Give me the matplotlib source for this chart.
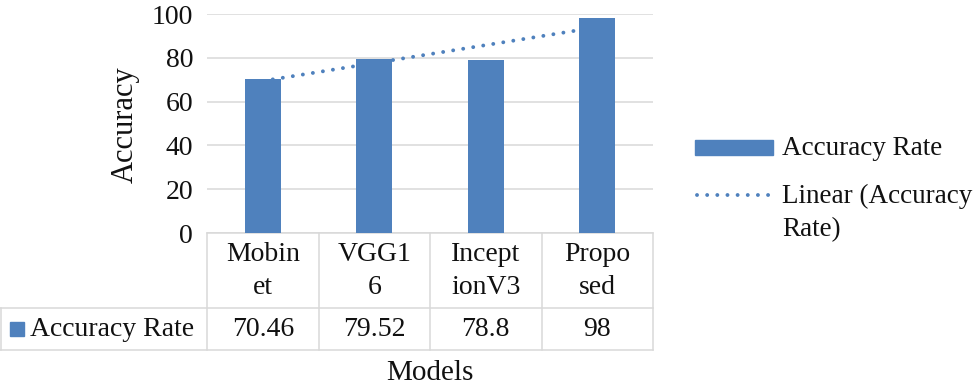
import numpy as np
import matplotlib.pyplot as plt
from matplotlib import transforms
from matplotlib.patches import Rectangle
from matplotlib.lines import Line2D

models = ['Mobin\net', 'VGG1\n6', 'Incept\nionV3', 'Propo\nsed']
accuracy = [70.46, 79.52, 78.8, 98]
value_labels = ['70.46', '79.52', '78.8', '98']
series_name = 'Accuracy Rate'
trend_name = 'Linear (Accuracy\nRate)'

plt.rcParams['font.family'] = ['Liberation Serif', 'DejaVu Serif']
plt.rcParams['font.size'] = 20
plt.rcParams['text.color'] = '#111111'

BLUE = '#4f81bd'
GRID = '#d9d9d9'
W, H = 976, 391
DOTS = (0, (0.01, 2.6))


def fx(px):
    return px / W


def fy(py):
    return 1 - py / H


fig = plt.figure(figsize=(9.76, 3.91), dpi=100)
ax = fig.add_axes([fx(207), fy(233), fx(653) - fx(207), fy(14) - fy(233)])

x = np.arange(len(models))
ax.bar(x, accuracy, width=0.32, color=BLUE, zorder=3)

# linear trend line, like excel's
slope, icpt = np.polyfit(x + 1, accuracy, 1)
ends = x[[0, -1]]
ax.plot(ends, icpt + slope * (ends + 1), color=BLUE, lw=2.8,
        linestyle=DOTS, dash_capstyle='round', zorder=4)

ax.set_xlim(-0.5, len(models) - 0.5)
ax.set_ylim(0, 100)
ax.set_yticks(range(0, 101, 20))
ax.set_xticks([])
ax.grid(axis='y', color=GRID, lw=1.1, zorder=0)
for s in ['top', 'right', 'left']:
    ax.spines[s].set_visible(False)
ax.spines['bottom'].set_color(GRID)
ax.spines['bottom'].set_linewidth(1.1)
ax.tick_params(axis='y', length=0, pad=10, labelcolor='#111111')

# data table under the axis
trans = transforms.blended_transform_factory(ax.transData, fig.transFigure)
for b in np.arange(len(models) + 1) - 0.5:
    fig.add_artist(Line2D([b, b], [fy(233), fy(350)], transform=trans,
                          color=GRID, lw=1.1))
fig.add_artist(Line2D([fx(1), fx(1)], [fy(308), fy(350)], color=GRID, lw=1.1))
for py in [308, 350]:
    fig.add_artist(Line2D([fx(0), fx(653)], [fy(py), fy(py)], color=GRID, lw=1.1))

for i, (name, val) in enumerate(zip(models, value_labels)):
    fig.text(i, fy(271), name, transform=trans, ha='center', va='center',
             linespacing=1.45)
    fig.text(i, fy(329), val, transform=trans, ha='center', va='center')

fig.add_artist(Rectangle((fx(10), fy(336)), fx(14), fy(322) - fy(336),
                         color=BLUE, transform=fig.transFigure))
fig.text(fx(30), fy(329), series_name, ha='left', va='center')

fig.text(fx(125), fy(125), 'Accuracy', rotation=90, ha='center', va='center',
         fontsize=22)
fig.text(fx(430), fy(373), 'Models', ha='center', va='center', fontsize=21)

# legend
fig.add_artist(Rectangle((fx(695), fy(155)), fx(78), fy(140) - fy(155),
                         color=BLUE, transform=fig.transFigure))
fig.text(fx(782), fy(148), series_name, ha='left', va='center', fontsize=19.5)
fig.add_artist(Line2D([fx(697), fx(771)], [fy(195), fy(195)], color=BLUE, lw=2.8,
                      linestyle=DOTS, dash_capstyle='round'))
fig.text(fx(782), fy(213), trend_name, ha='left', va='center', linespacing=1.45,
         fontsize=19.5)

fig.savefig('out.png', dpi=100)
